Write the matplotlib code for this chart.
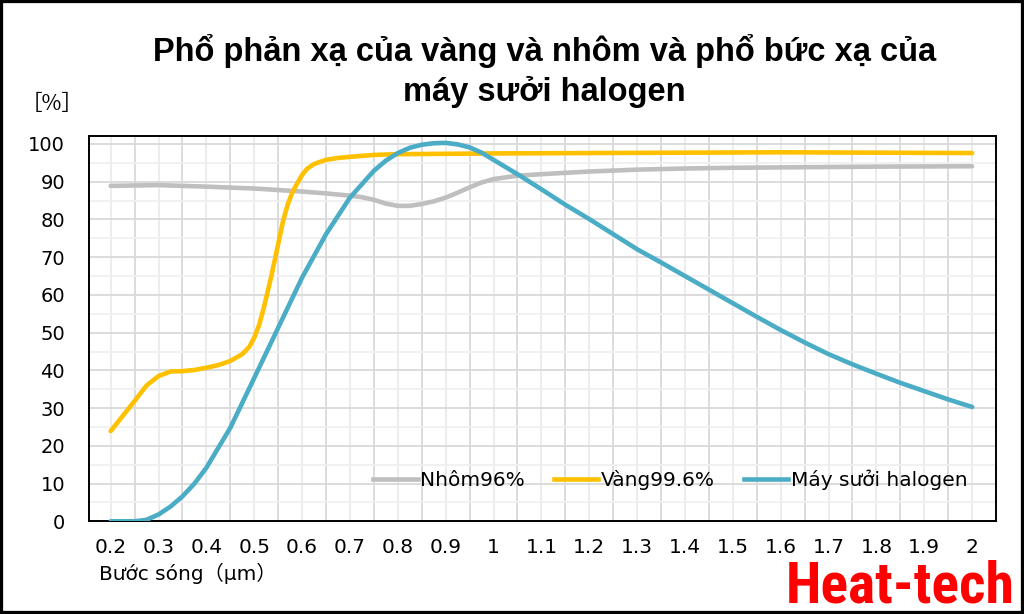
import matplotlib
matplotlib.use("Agg")
import matplotlib.pyplot as plt
from matplotlib.patches import Rectangle
from matplotlib.lines import Line2D
from matplotlib import font_manager

# ---------------- data ----------------
title = "Phổ phản xạ của vàng và nhôm và phổ bức xạ của\nmáy sưởi halogen"
series_names = ["Nhôm96%", "Vàng99.6%", "Máy sưởi halogen"]
x_ticks = [0.2, 0.3, 0.4, 0.5, 0.6, 0.7, 0.8, 0.9, 1.0, 1.1, 1.2, 1.3, 1.4, 1.5, 1.6, 1.7, 1.8, 1.9, 2.0]
x_tick_labels = ["0.2", "0.3", "0.4", "0.5", "0.6", "0.7", "0.8", "0.9", "1", "1.1", "1.2",
                 "1.3", "1.4", "1.5", "1.6", "1.7", "1.8", "1.9", "2"]
y_ticks = [0, 10, 20, 30, 40, 50, 60, 70, 80, 90, 100]

al_x = [0.2, 0.3, 0.4, 0.5, 0.6, 0.65, 0.7, 0.725, 0.75, 0.775, 0.8, 0.825, 0.85, 0.875, 0.9,
        0.925, 0.95, 0.975, 1.0, 1.05, 1.1, 1.2, 1.3, 1.4, 1.5, 1.6, 1.8, 2.0]
al_y = [88.9, 89.1, 88.7, 88.2, 87.4, 86.9, 86.3, 85.9, 85.2, 84.2, 83.6, 83.6, 84.1, 84.8, 85.8,
        87.1, 88.5, 89.8, 90.7, 91.6, 92.0, 92.7, 93.2, 93.5, 93.7, 93.8, 94.0, 94.1]

au_x = [0.2, 0.25, 0.275, 0.3, 0.325, 0.35, 0.375, 0.4, 0.425, 0.45, 0.475, 0.49, 0.5, 0.51,
        0.52, 0.535, 0.55, 0.56, 0.57, 0.58, 0.59, 0.6, 0.61, 0.625, 0.65, 0.675, 0.7, 0.75,
        0.8, 0.9, 1.0, 1.2, 1.4, 1.6, 1.8, 2.0]
au_y = [23.9, 31.9, 36.0, 38.5, 39.7, 39.8, 40.1, 40.7, 41.4, 42.5, 44.3, 46.3, 48.7, 52.0,
        56.6, 64.6, 73.5, 79.5, 84.0, 87.3, 89.6, 91.8, 93.4, 94.7, 95.8, 96.3, 96.6, 97.1,
        97.3, 97.4, 97.5, 97.6, 97.7, 97.8, 97.7, 97.6]

hl_x = [0.2, 0.25, 0.275, 0.3, 0.325, 0.35, 0.375, 0.4, 0.45, 0.5, 0.55, 0.6, 0.65, 0.7, 0.75,
        0.775, 0.8, 0.825, 0.85, 0.875, 0.9, 0.925, 0.95, 0.975, 1.0, 1.05, 1.1, 1.15, 1.2,
        1.25, 1.3, 1.35, 1.4, 1.45, 1.5, 1.55, 1.6, 1.65, 1.7, 1.75, 1.8, 1.85, 1.9, 1.95, 2.0]
hl_y = [0.0, 0.0, 0.4, 1.8, 3.9, 6.6, 10.0, 14.2, 24.8, 38.0, 51.3, 64.6, 76.1, 85.8, 92.9,
        95.6, 97.6, 99.0, 99.8, 100.2, 100.3, 99.9, 99.1, 97.7, 95.8, 92.0, 88.0, 83.9, 80.1,
        76.1, 72.1, 68.6, 65.0, 61.4, 57.8, 54.2, 50.7, 47.4, 44.3, 41.6, 39.1, 36.7, 34.5,
        32.3, 30.3]

colors = ["#BFBFBF", "#FFC000", "#4BACC6"]

# ---------------- figure ----------------
fig = plt.figure(figsize=(10.24, 6.14), dpi=100)
ax = fig.add_axes([0.0866, 0.151, 0.8861, 0.628])

lw = 3.3
kw = dict(lw=lw, solid_capstyle="round", solid_joinstyle="round")
ax.plot(al_x, al_y, color=colors[0], zorder=3, **kw)
ax.plot(au_x, au_y, color=colors[1], zorder=4, **kw)
ax.plot(hl_x, hl_y, color=colors[2], zorder=5, **kw)

ax.set_xlim(0.154, 2.05)
ax.set_ylim(0, 102.2)

ax.set_xticks(x_ticks)
ax.set_xticklabels(x_tick_labels)
ax.set_xticks([v + 0.05 for v in x_ticks[:-1]], minor=True)
ax.set_yticks(y_ticks)
ax.set_yticks([v + 5 for v in y_ticks[:-1]], minor=True)

ax.grid(True, which="major", axis="x", color="#EBEBEB", lw=1.3, zorder=0)
ax.grid(True, which="minor", axis="x", color="#D9D9D9", lw=1.3, zorder=0)
ax.grid(True, which="major", axis="y", color="#D9D9D9", lw=1.3, zorder=0)
ax.grid(True, which="minor", axis="y", color="#F0F0F0", lw=1.3, zorder=0)
ax.set_axisbelow(True)

ax.tick_params(axis="both", which="both", length=0, colors="#000000")
ax.tick_params(axis="x", pad=12, labelsize=14.5)
ax.tick_params(axis="y", pad=17, labelsize=14)
for s in ax.spines.values():
    s.set_color("#000000")
    s.set_linewidth(1.4)

handles = [Line2D([], [], color=c, lw=lw) for c in colors]
ax.legend(handles, series_names, loc="center", bbox_to_anchor=(0.641, 0.107), ncol=3,
          frameon=False, handlelength=2.2, handletextpad=0.12, columnspacing=1.45,
          fontsize=14.5)

fig.text(0.532, 0.884, title, ha="center", va="center", fontsize=23.5, fontweight="bold",
         family=["Liberation Sans", "DejaVu Sans"], linespacing=1.33)

fig.text(0.020, 0.830, "［%］", ha="left", va="center", fontsize=15.5,
         family=["Noto Sans CJK JP", "DejaVu Sans"])
fig.text(0.097, 0.066, "Bước sóng（μm）", ha="left", va="center", fontsize=14.5,
         family=["DejaVu Sans", "Noto Sans CJK JP"])

# logo: prefer a condensed face if one is installed
names = {f.name for f in font_manager.fontManager.ttflist}
if "Roboto Condensed" in names:
    logo_kw = dict(family="Roboto Condensed", fontweight="bold", fontsize=41.5)
elif "Liberation Sans Narrow" in names:
    logo_kw = dict(family="Liberation Sans Narrow", fontweight="bold", fontsize=39)
elif "Noto Sans Condensed" in names:
    logo_kw = dict(family="Noto Sans Condensed", fontweight="bold", fontsize=39)
elif "DejaVu Sans Condensed" in names:
    logo_kw = dict(family="DejaVu Sans Condensed", fontweight="bold", fontsize=33)
else:
    logo_kw = dict(family="Liberation Sans", fontweight="bold", fontsize=32)
fig.text(0.991, 0.019, "Heat-tech", ha="right", va="baseline", color="#FF0000", **logo_kw)

fig.patches.append(Rectangle((0, 0), 1, 1, transform=fig.transFigure, fill=False,
                             ec="#000000", lw=4.5))

fig.savefig("out.png", dpi=100)
